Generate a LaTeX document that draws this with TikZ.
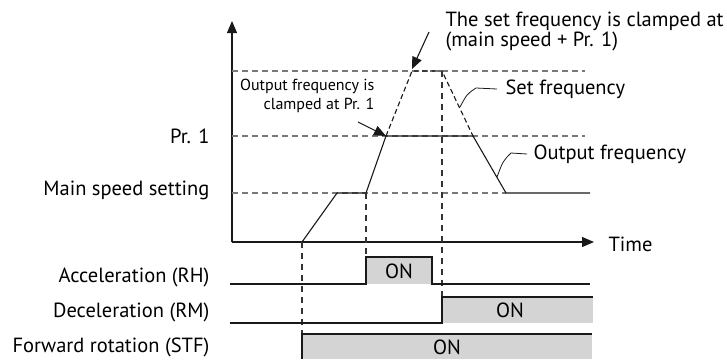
\documentclass[tikz,border=0pt]{standalone}
\usepackage{fontspec}
\setmainfont{PT Sans}
\usepackage{tikz}
\usetikzlibrary{arrows.meta, positioning, calc}
\definecolor{ongray}{RGB}{212,212,212}
\definecolor{linegray}{RGB}{120,120,120}

\begin{document}
\begin{tikzpicture}[x=1pt, y=-1pt, line width=1.1pt,
  every node/.style={inner sep=0pt, font=\fontsize{20.5}{20}\selectfont},
  smalltext/.style={font=\fontsize{16}{19}\selectfont},
  level/.style={draw=linegray, dash pattern=on 6pt off 4pt},
  guide/.style={draw=black!80, dash pattern=on 6pt off 5pt},
  setline/.style={draw=black!90, dash pattern=on 5pt off 3pt},
  signal/.style={draw=black!90},
  tip/.style={-{Triangle[length=12pt, width=10pt]}}]
  \useasboundingbox (0,0) rectangle (727,359);
  % axes
  \coordinate (o) at (232,242);
  \coordinate (ytop) at (232,21);
  \coordinate (xend) at (594,242);
  \draw[signal, tip] (o) -- (ytop);
  \draw[signal, tip] (o) -- (xend);
  \node[anchor=west] (time) at (608,244) {Time};
  % frequency levels
  \draw[level] (232,71) -- (585,71);
  \draw[level] (232,136) -- (585,136);
  \draw[level] (232,193) -- (506,193);
  \node[anchor=east] (pr1) at (210,136) {Pr. 1};
  \node[anchor=east] (mainspd) at (210,190) {Main speed setting};
  % output frequency
  \coordinate (s0) at (302,242);
  \coordinate (s1) at (337,193);
  \coordinate (s2) at (366,193);
  \coordinate (s3) at (386,136);
  \coordinate (s4) at (473,136);
  \coordinate (s5) at (506,193);
  \coordinate (s6) at (590,193);
  \draw[signal] (s0) -- (s1) -- (s2) -- (s3) -- (s4) -- (s5) -- (s6);
  % set frequency
  \coordinate (t1) at (412,71);
  \coordinate (t2) at (442,71);
  \draw[setline] (s3) -- (t1) -- (t2) -- (s4);
  % timing guides
  \draw[guide] (s0) -- (302,359);
  \draw[guide] (s2) -- (366,257);
  \draw[guide] (t2) -- (442,297);
  % Acceleration (RH)
  \fill[ongray] (366,257) rectangle (432,284);
  \draw[signal] (230,284) -- (366,284) -- (366,257) -- (432,257) -- (432,284) -- (590,284);
  \node (rhon) at (399,271) {ON};
  \node[anchor=east] (rh) at (210,277) {Acceleration (RH)};
  % Deceleration (RM)
  \fill[ongray] (442,297) rectangle (593,323);
  \draw[signal] (230,323) -- (442,323) -- (442,297) -- (593,297);
  \node (rmon) at (510,310) {ON};
  \node[anchor=east] (rm) at (210,312) {Deceleration (RM)};
  % Forward rotation (STF)
  \fill[ongray] (302,334) rectangle (592,359);
  \draw[signal] (302,359) -- (302,334) -- (592,334);
  \node (stfon) at (447,347) {ON};
  \node[anchor=east] (stf) at (210,347) {Forward rotation (STF)};
  % notes
  \node[smalltext, anchor=north east, align=right] (clampout) at (375,79)
    {Output frequency is\\clamped at Pr. 1};
  \coordinate (ca) at (358,122);
  \draw[signal, tip] (ca) -- (s3);
  \node[anchor=north west, align=left] (clampset) at (445,11)
    {The set frequency is clamped at\\(main speed + Pr. 1)};
  \coordinate (cb) at (429,32);
  \draw[signal, tip] (cb) -- (412,69);
  \node[anchor=west] (setlbl) at (505,89) {Set frequency};
  \coordinate (lset) at (460,107);
  \draw[signal, line width=0.8pt] (lset) .. controls (467,94) .. (476,88) -- ([xshift=-8pt]setlbl.west);
  \node[anchor=west] (outlbl) at (533,154) {Output frequency};
  \coordinate (lout) at (497,177);
  \draw[signal, line width=0.8pt] (lout) .. controls (503,161) .. (511,153) -- ([xshift=-6pt]outlbl.west);
\end{tikzpicture}
\end{document}
